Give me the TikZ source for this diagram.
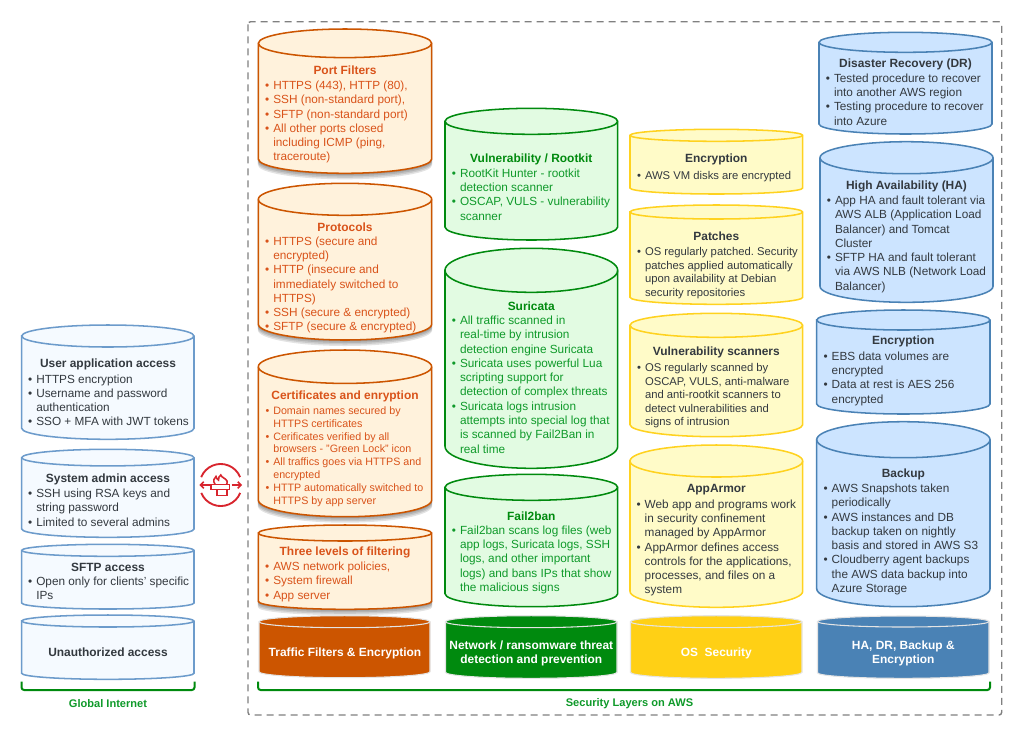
\documentclass[tikz,border=0pt]{standalone}
\usepackage{fontspec}
\setmainfont{Liberation Sans}
\definecolor{dk}{HTML}{33393F}
\definecolor{bfill}{HTML}{F5FAFF}\definecolor{bline}{HTML}{6C9BCB}
\definecolor{ofill}{HTML}{FFF2DC}\definecolor{oline}{HTML}{CC5500}\definecolor{otext}{HTML}{D9531A}
\definecolor{gfill}{HTML}{E2FBE2}\definecolor{gline}{HTML}{008A0E}\definecolor{gtext}{HTML}{0F9A2A}
\definecolor{yfill}{HTML}{FFFBC8}\definecolor{yline}{HTML}{FFD21F}\definecolor{ybase}{HTML}{FFD015}
\definecolor{cfill}{HTML}{CCE4FF}\definecolor{cline}{HTML}{4A82B5}
\definecolor{rim}{HTML}{E4E4E4}\definecolor{fw}{HTML}{D8252E}\definecolor{frame}{HTML}{808080}
\newcommand{\cyl}[6]{%
  \draw[#1] ({#2},{#4+#5}) -- ({#2},{#6-#5})
    arc[start angle=180,end angle=0,x radius={(#3-#2)/2},y radius={#5}]
    -- ({#3},{#4+#5})
    arc[start angle=0,end angle=-180,x radius={(#3-#2)/2},y radius={#5}] -- cycle;
  \draw[#1,fill=none] ({#2},{#4+#5})
    arc[start angle=180,end angle=0,x radius={(#3-#2)/2},y radius={#5}];}
\newcommand{\cylsh}[6]{%
  \foreach \dy/\dx in {1.5/0,3/0,4.5/0,6/0}{
  \fill[black,opacity=.11] ({#2-.5},{#4+#5+\dy}) -- ({#2-.5},{#6-#5+\dy})
    arc[start angle=180,end angle=0,x radius={(#3-#2)/2+.5},y radius={#5}]
    -- ({#3+.5},{#4+#5+\dy}) -- cycle;}}
\newlength{\pxu}\setlength{\pxu}{0.75pt}
\newcommand{\B}{\rule{0pt}{10\pxu}\llap{•\hspace{4\pxu}}}
\frenchspacing
\tikzset{
  x=0.75pt,y=-0.75pt,
  every node/.style={inner sep=0pt,outer sep=0pt},
  ttl/.style={anchor=center,yshift=-.5pt,font=\fontsize{8.95pt}{10.75pt}\selectfont\bfseries},
  bd/.style={anchor=north west,align=left,font=\fontsize{8.85pt}{10.72pt}\selectfont},
  bdsm/.style={anchor=north west,align=left,font=\fontsize{8.03pt}{9.68pt}\selectfont},
  bdy/.style={anchor=north west,align=left,font=\fontsize{8.45pt}{10.15pt}\selectfont},
  cb/.style={fill=bfill,draw=bline,line width=1.15pt},
  co/.style={fill=ofill,draw=oline,line width=1.15pt},
  cg/.style={fill=gfill,draw=gline,line width=1.15pt},
  cy/.style={fill=yfill,draw=yline,line width=1.15pt},
  cc/.style={fill=cfill,draw=cline,line width=1.15pt},
  lbl/.style={ttl,align=center,text=white,yshift=-.9pt},
  brk/.style={draw=gline,line width=1.5pt,rounded corners=2pt},
  brklbl/.style={anchor=center,font=\fontsize{8.3pt}{10pt}\selectfont\bfseries,text=gtext},
}
\begin{document}
\begin{tikzpicture}
\useasboundingbox[fill=white] (0,0) rectangle (1024,744);
% frame
\draw[frame,line width=1.05pt,dash pattern=on 5.2pt off 3.8pt,rounded corners=2pt] (248,21.7) rectangle (1001.7,715);

% left column
\cyl{cb}{21.7}{194}{325}{11}{439.3}
\node[ttl,text=dk] (t1) at (108,364) {User application access};
\node[bd,text=dk] (b1) at (36.3,373) {\B HTTPS encryption\\\B Username and password\\authentication\\\B SSO + MFA with JWT tokens};
\cyl{cb}{21.7}{194}{449.3}{8.3}{537.3}
\node[ttl,text=dk] (t2) at (108,479) {System admin access};
\node[bd,text=dk] (b2) at (36.3,487.5) {\B SSH using RSA keys and\\string password\\\B Limited to several admins};
\cyl{cb}{21.7}{194}{544.3}{6}{609}
\node[ttl,text=dk] (t3) at (108,566.7) {SFTP access};
\node[bd,text=dk] (b3) at (36.3,575.5) {\B Open only for clients' specific\\IPs};
\cyl{cb}{21.7}{194}{615}{6}{679.3}
\node[ttl,text=dk] (t4) at (108,651.7) {Unauthorized access};
\coordinate (ga) at (21.5,681.5); \coordinate (gb) at (194.5,681.5);
\draw[brk] (ga) -- (21.5,690) -- (194.5,690) -- (gb);
\node[brklbl] (gl) at (108,704) {Global Internet};

% firewall icon
\begin{scope}[draw=fw,line width=1.4pt]
\draw (201.2,477.1) arc[start angle=-158,end angle=-22,radius=21];
\draw (240.2,492.9) arc[start angle=22,end angle=158,radius=21];
\draw[line width=1.2pt] (200.5,485) -- (209.5,485); \draw[line width=1.2pt] (203.8,481.8) -- (200.5,485) -- (203.8,488.2);
\draw[line width=1.2pt] (231.5,485) -- (241,485); \draw[line width=1.2pt] (237.7,481.8) -- (241,485) -- (237.7,488.2);
\draw[line width=1.2pt] (211,484.3) rectangle (229.5,489.5);
\draw[line width=1.2pt] (216.7,489.5) rectangle (226.7,495.5);
\draw[line width=1.2pt] (215,484) .. controls (212.5,481) and (214,478) .. (216,476.5) .. controls (216.5,478.5) and (217.5,479.5) .. (218.5,480) .. controls (219,478) and (218.5,476) .. (220.8,475) .. controls (221.5,477.5) and (226,478.5) .. (227,481) .. controls (227.5,482.5) and (227,483.5) .. (226.5,484);
\end{scope}

% orange column
\cylsh{}{258.3}{431.7}{29}{14.3}{173.3}
\cyl{co}{258.3}{431.7}{29}{14.3}{173.3}
\node[ttl,text=otext] (o1t) at (345,70) {Port Filters};
\node[bd,text=otext] (o1b) at (273.3,79.5) {\B HTTPS (443), HTTP (80),\\\B SSH (non-standard port),\\\B SFTP (non-standard port)\\\B All other ports closed\\including ICMP (ping,\\traceroute)};
\cylsh{}{258.3}{431.7}{183.3}{16}{340}
\cyl{co}{258.3}{431.7}{183.3}{16}{340}
\node[ttl,text=otext] (o2t) at (345,226.3) {Protocols};
\node[bd,text=otext] (o2b) at (273.3,235.2) {\B HTTPS (secure and\\encrypted)\\\B HTTP (insecure and\\immediately switched to\\HTTPS)\\\B SSH (secure \& encrypted)\\\B SFTP (secure \& encrypted)};
\cylsh{}{258.3}{431.7}{350}{16.7}{516.7}
\cyl{co}{258.3}{431.7}{350}{16.7}{516.7}
\node[ttl,text=otext] (o3t) at (345,395.7) {Certificates and enryption};
\node[bdsm,text=otext] (o3b) at (273.3,404.2) {\B Domain names secured by\\HTTPS certificates\\\B Cerificates verified by all\\browsers - "Green Lock" icon\\\B All traffics goes via HTTPS and\\encrypted\\\B HTTP automatically switched to\\HTTPS by app server};
\cylsh{}{258.3}{431.7}{525}{8}{609.3}
\cyl{co}{258.3}{431.7}{525}{8}{609.3}
\node[ttl,text=otext] (o4t) at (345,551.3) {Three levels of filtering};
\node[bd,text=otext] (o4b) at (273.3,560.5) {\B AWS network policies,\\\B System firewall\\\B App server};
\cyl{fill=oline,draw=rim,line width=.8pt}{259}{430}{615.7}{6}{677.7}
\node[lbl] (o5) at (345,651.5) {Traffic Filters \& Encryption};

% green column
\cyl{cg}{445}{617.7}{108.3}{13}{240}
\node[ttl,text=gline] (g1t) at (531.3,158.3) {Vulnerability / Rootkit};
\node[bd,text=gtext] (g1b) at (460,167.2) {\B RootKit Hunter - rootkit\\detection scanner\\\B OSCAP, VULS - vulnerability\\scanner};
\cyl{cg}{445}{617.7}{248.3}{22}{468.3}
\node[ttl,text=gline] (g2t) at (531.3,305.7) {Suricata};
\node[bd,text=gtext] (g2b) at (460,314.5) {\B All traffic scanned in\\real-time by intrusion\\detection engine Suricata\\\B Suricata uses powerful Lua\\scripting support for\\detection of complex threats\\\B Suricata logs intrusion\\attempts into special log that\\is scanned by Fail2Ban in\\real time};
\cyl{cg}{445}{617.7}{474.3}{13}{606.7}
\node[ttl,text=gline] (g3t) at (531.3,515.3) {Fail2ban};
\node[bd,text=gtext] (g3b) at (460,524.2) {\B Fail2ban scans log files (web\\app logs, Suricata logs, SSH\\logs, and other important\\logs) and bans IPs that show\\the malicious signs};
\cyl{fill=gline,draw=rim,line width=.8pt}{445.5}{617}{615.7}{6}{678.3}
\node[lbl] (g4) at (531.3,651.5) {Network / ransomware threat\\detection and prevention};

% yellow column
\cyl{cy}{630}{802.7}{129.3}{6}{194}
\node[ttl,text=dk] (y1t) at (716.3,159) {Encryption};
\node[bdy,text=dk] (y1b) at (645,169.5) {\B AWS VM disks are encrypted};
\cyl{cy}{630}{802.7}{205}{7}{304.3}
\node[ttl,text=dk] (y2t) at (716.3,235.3) {Patches};
\node[bdy,text=dk] (y2b) at (645,245.5) {\B OS regularly patched. Security\\patches applied automatically\\upon availability at Debian\\security repositories};
\cyl{cy}{630}{802.7}{313.3}{12}{436.7}
\node[ttl,text=dk] (y3t) at (716.3,351.3) {Vulnerability scanners};
\node[bdy,text=dk] (y3b) at (645,361.5) {\B OS regularly scanned by\\OSCAP, VULS, anti-malware\\and anti-rootkit scanners to\\detect vulnerabilities and\\signs of intrusion};
\cyl{cy}{630}{802.7}{445}{16}{607.3}
\node[ttl,text=dk] (y4t) at (716.3,489.3) {AppArmor};
\node[bd,text=dk] (y4b) at (644.7,498.2) {\B Web app and programs work\\in security confinement\\managed by AppArmor\\\B AppArmor defines access\\controls for the applications,\\processes, and files on a\\system};
\cyl{fill=ybase,draw=rim,line width=.8pt}{630.5}{802}{615.7}{6}{678.3}
\node[lbl] (y5) at (716.3,651.5) {OS\ \ Security};

% blue column
\cyl{cc}{819}{992}{32.3}{10}{134}
\node[ttl,text=dk] (c1t) at (905.5,63.3) {Disaster Recovery (DR)};
\node[bd,text=dk] (c1b) at (834,72.2) {\B Tested procedure to recover\\into another AWS region\\\B Testing procedure to recover\\into Azure};
\cyl{cc}{820}{993}{141.7}{16}{302.3}
\node[ttl,text=dk] (c2t) at (906.5,185.7) {High Availability (HA)};
\node[bd,text=dk] (c2b) at (835,194.5) {\B App HA and fault tolerant via\\AWS ALB (Application Load\\Balancer) and Tomcat\\Cluster\\\B SFTP HA and fault tolerant\\via AWS NLB (Network Load\\Balancer)};
\cyl{cc}{816.7}{990}{310}{10}{414}
\node[ttl,text=dk] (c3t) at (903.3,341) {Encryption};
\node[bd,text=dk] (c3b) at (831.7,350.2) {\B EBS data volumes are\\encrypted\\\B Data at rest is AES 256\\encrypted};
\cyl{cc}{816.7}{990}{421.7}{18}{606.7}
\node[ttl,text=dk] (c4t) at (903.3,473.7) {Backup};
\node[bd,text=dk] (c4b) at (831.7,482.5) {\B AWS Snapshots taken\\periodically\\\B AWS instances and DB\\backup taken on nightly\\basis and stored in AWS S3\\\B Cloudberry agent backups\\the AWS data backup into\\Azure Storage};
\cyl{fill=cline,draw=rim,line width=.8pt}{817.5}{989}{616}{5.5}{678.3}
\node[lbl] (c5) at (903.3,651.5) {HA, DR, Backup \&\\Encryption};

% bracket
\coordinate (sa) at (258,681.5); \coordinate (sb) at (990,681.5);
\draw[brk] (sa) -- (258,690) -- (990,690) -- (sb);
\node[brklbl] (sl) at (629.5,704) {Security Layers on AWS};
\end{tikzpicture}
\end{document}
